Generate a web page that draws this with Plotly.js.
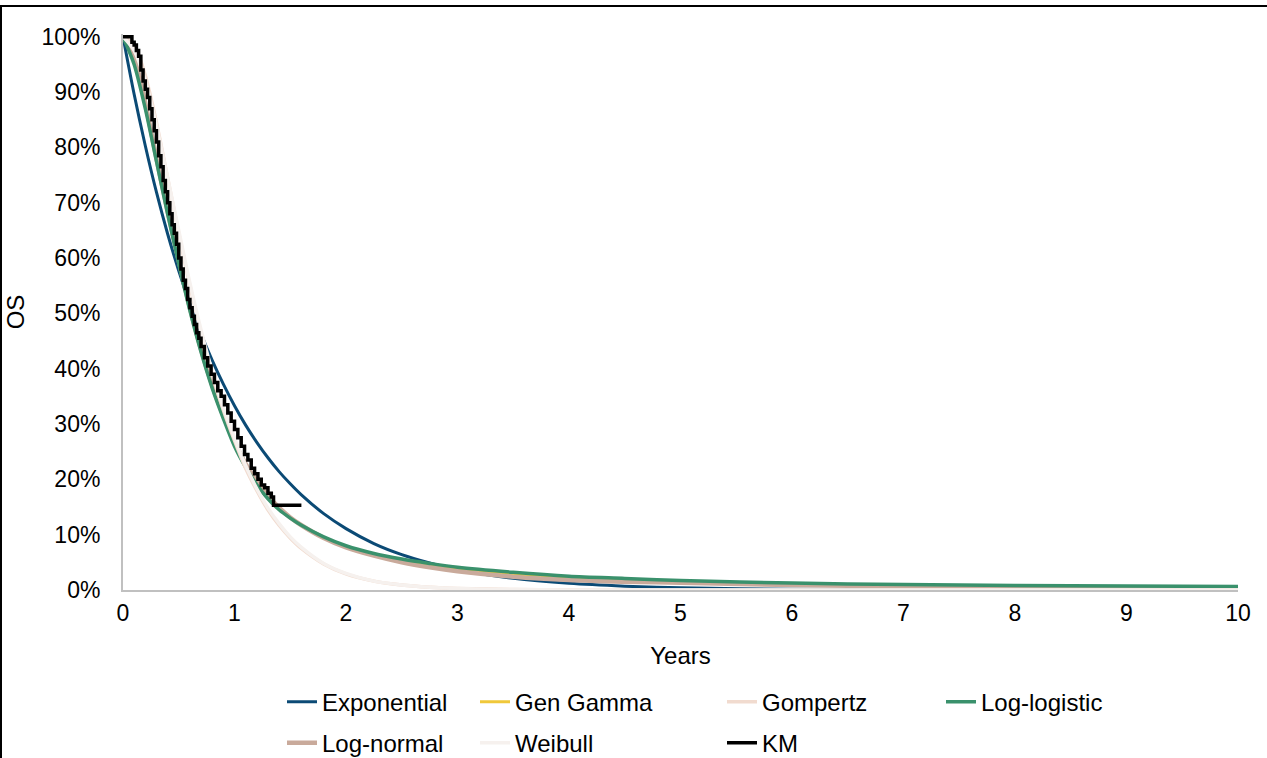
<!DOCTYPE html>
<html>
<head>
<meta charset="utf-8">
<script src="https://cdn.plot.ly/plotly-3.0.1.min.js"></script>
<style>
html,body{margin:0;padding:0;background:#fff;overflow:hidden;}
#wrap{position:relative;width:1267px;height:758px;overflow:hidden;}
#chart{position:absolute;left:0;top:0;width:1267px;height:800px;}
#frame{position:absolute;left:0;top:5px;width:1280px;height:800px;border-top:2px solid #000;border-left:2px solid #000;pointer-events:none;}
</style>
</head>
<body>
<div id="wrap"><div id="chart"></div><div id="frame"></div></div>
<script>
// Time grid (years) for the fitted curves
const tFit = [0,0.1,0.2,0.3,0.4,0.5,0.6,0.7,0.8,0.9,1.0,1.1,1.2,1.3,1.4,1.5,1.6,1.8,2.0,2.25,2.5,2.75,3,3.5,4,4.5,5,6,7,8,9,10];

const expS = [1.000,0.896,0.803,0.719,0.644,0.577,0.517,0.463,0.415,0.372,0.333,0.298,0.267,0.239,0.214,0.192,0.172,0.138,0.111,0.084,0.064,0.049,0.037,0.021,0.012,0.007,0.004,0.0014,0.0005,0.0002,0.0001,0.00002];
const genGammaS = [1.000,0.958,0.875,0.778,0.683,0.593,0.508,0.433,0.368,0.313,0.266,0.227,0.195,0.169,0.148,0.131,0.117,0.095,0.079,0.064,0.053,0.045,0.038,0.028,0.022,0.017,0.014,0.0100,0.0080,0.0066,0.0058,0.0052];
const gompertzS = [1.000,0.985,0.930,0.845,0.745,0.645,0.550,0.465,0.390,0.325,0.270,0.220,0.180,0.145,0.117,0.094,0.075,0.047,0.029,0.016,0.009,0.005,0.0028,0.0009,0.0003,0.0001,0,0,0,0,0,0];
const logLogisticS = [1.000,0.950,0.870,0.775,0.680,0.590,0.505,0.430,0.365,0.310,0.260,0.222,0.190,0.165,0.145,0.130,0.117,0.096,0.080,0.066,0.056,0.048,0.041,0.032,0.025,0.021,0.017,0.0125,0.0098,0.0082,0.0072,0.0065];
const logNormalS = [1.000,0.965,0.880,0.780,0.685,0.595,0.510,0.435,0.370,0.315,0.268,0.228,0.196,0.170,0.149,0.131,0.117,0.094,0.077,0.062,0.050,0.041,0.034,0.024,0.018,0.015,0.013,0.009,0.0068,0.0055,0.0047,0.0040];
const weibullS = [1.000,0.975,0.920,0.840,0.745,0.650,0.555,0.470,0.395,0.330,0.275,0.225,0.183,0.148,0.120,0.096,0.077,0.048,0.030,0.016,0.009,0.005,0.0027,0.0008,0.0002,0,0,0,0,0,0,0];

// Kaplan-Meier step data
const kmT = [0,0.08,0.10,0.12,0.14,0.16,0.18,0.20,0.22,0.24,0.26,0.28,0.30,0.32,0.34,0.36,0.38,0.40,0.42,0.44,0.46,0.48,0.50,0.52,0.54,0.56,0.58,0.60,0.62,0.64,0.66,0.68,0.70,0.73,0.76,0.79,0.82,0.85,0.88,0.91,0.94,0.97,1.00,1.03,1.06,1.09,1.12,1.15,1.18,1.21,1.24,1.27,1.30,1.33,1.35,1.60];
const kmS = [1.0,0.99,0.985,0.975,0.965,0.94,0.92,0.905,0.89,0.87,0.85,0.83,0.81,0.785,0.765,0.74,0.72,0.70,0.68,0.66,0.645,0.625,0.60,0.58,0.56,0.545,0.525,0.51,0.495,0.48,0.465,0.455,0.44,0.42,0.405,0.39,0.375,0.36,0.35,0.335,0.32,0.305,0.29,0.275,0.26,0.245,0.235,0.22,0.21,0.20,0.19,0.185,0.175,0.168,0.153,0.153];

const seriesNames = ["Exponential","Gen Gamma","Gompertz","Log-logistic","Log-normal","Weibull","KM"];
const yTickVals = [0,0.1,0.2,0.3,0.4,0.5,0.6,0.7,0.8,0.9,1.0];
const yTickText = ["0%","10%","20%","30%","40%","50%","60%","70%","80%","90%","100%"];
const xTickVals = [0,1,2,3,4,5,6,7,8,9,10];

const colors = ["#0b4a75","#f0c83a","#f1dbcf","#3a916c","#c9aa9b","#f6f1ee","#000000"];
const widths = [3,3,3.5,3.5,4.5,3.5,3.5];
const ySeries = [expS,genGammaS,gompertzS,logLogisticS,logNormalS,weibullS];

// layout geometry helpers (pixels -> paper); the figure is taller than the
// visible window so the second legend row is not clipped by the svg edge
const W = 1267, H = 800;
const mL = 123, mR = W - 1238, y0px = 590, y100px = 37;
const yTop = 1.005;
const plotH = (y0px - y100px) * yTop;
const mT = y0px - plotH, mB = H - y0px;
const plotW = W - mL - mR;
const px2x = p => (p - mL) / plotW;
const px2y = p => (y0px - p) / plotH;

// draw order: Exponential, Gen Gamma, Log-normal, Log-logistic, Gompertz, Weibull, KM
const drawOrder = [0,1,4,3,2,5];
const legendIds = ["legend","legend2","legend3","legend4","legend5","legend6","legend7"];
const traces = [];
drawOrder.forEach(i => {
  traces.push({
    x: tFit, y: ySeries[i], name: seriesNames[i], type: "scatter", mode: "lines",
    line: {color: colors[i], width: widths[i], shape: "spline", smoothing: 0.8},
    legend: legendIds[i], hoverinfo: "skip"
  });
});
traces.push({
  x: kmT, y: kmS, name: seriesNames[6], type: "scatter", mode: "lines",
  line: {color: colors[6], width: widths[6], shape: "hv"},
  legend: legendIds[6], hoverinfo: "skip"
});

// legend placement: text start x, row center y
const legTextX = [324,517,764,983,324,517,764];
const legRowY = [702,702,702,702,743,743,743];
const FONT = "Liberation Sans, Arial, sans-serif";
const legFont = {family: FONT, size: 24, color: "#000"};

const layout = {
  width: W, height: H,
  paper_bgcolor: "rgba(0,0,0,0)", plot_bgcolor: "#fff",
  margin: {l: mL, r: mR, t: mT, b: mB, pad: 0, autoexpand: false},
  font: {family: FONT, size: 24, color: "#000"},
  showlegend: true,
  xaxis: {
    range: [0,10], tickvals: xTickVals, ticks: "", showgrid: false, zeroline: false,
    showline: true, linecolor: "#c0c0c0", linewidth: 2, automargin: false,
    ticklabelstandoff: 1,
    tickfont: {size: 23, color: "#000"},
    title: {text: "Years", font: {size: 24, color: "#000"}, standoff: 23}
  },
  yaxis: {
    range: [0, yTop], tickvals: yTickVals, ticktext: yTickText, ticks: "", showgrid: false, zeroline: false,
    showline: true, linecolor: "#c0c0c0", linewidth: 2, automargin: true,
    ticklabelstandoff: 16,
    tickfont: {size: 23, color: "#000"},
    title: {text: "OS", font: {size: 24, color: "#000"}, standoff: 10}
  }
};
legendIds.forEach((id, k) => {
  layout[id] = {
    x: px2x(legTextX[k] - 42), y: px2y(legRowY[k]), xanchor: "left", yanchor: "middle",
    orientation: "v", bgcolor: "rgba(0,0,0,0)", borderwidth: 0,
    font: legFont, itemclick: false, itemdoubleclick: false
  };
});

Plotly.newPlot("chart", traces, layout, {displayModeBar: false, staticPlot: true});
</script>
</body>
</html>
